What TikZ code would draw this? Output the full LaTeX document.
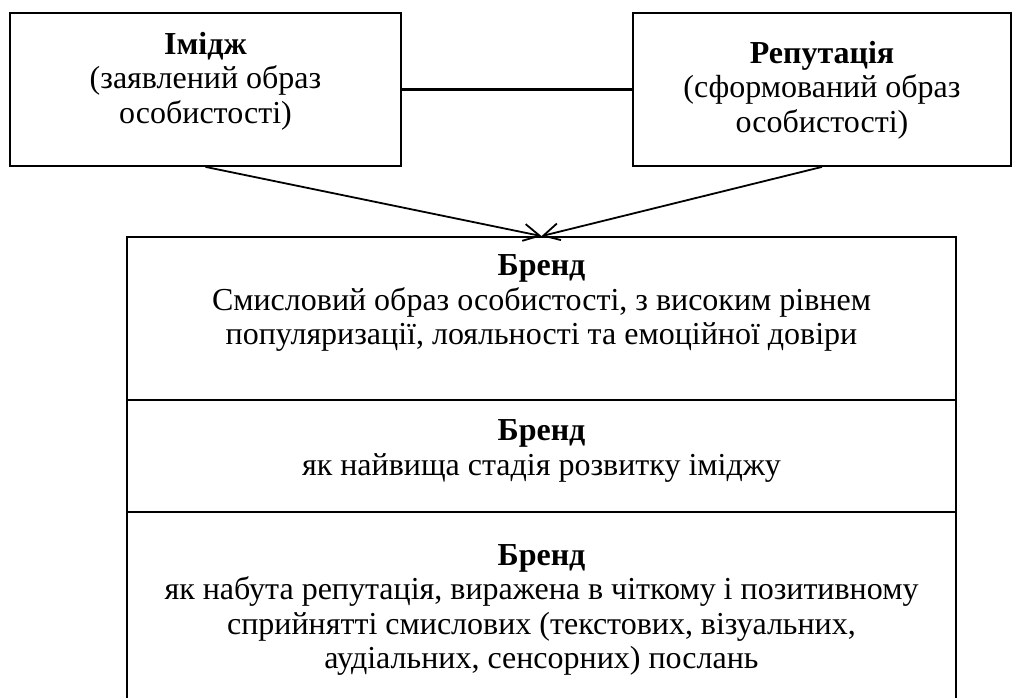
\documentclass[tikz,border=0pt]{standalone}
\usepackage{fontspec}
\setmainfont{Liberation Serif}
\usetikzlibrary{arrows.meta}
\tikzset{
  boxst/.style={draw, line width=1.8pt, inner sep=0pt},
  txt/.style={font=\fontsize{32}{34.4}\selectfont, align=center, inner sep=0pt},
  arr/.style={line width=1.8pt, -{Straight Barb[length=16pt, width=17pt]}},
}
\begin{document}
\begin{tikzpicture}[x=1pt, y=-1pt]
	\useasboundingbox (0, 0) rectangle (1014, 698);
	\node[boxst, minimum width=391pt, minimum height=153pt] (img) at (205.5, 89.5) {};
	\node[boxst, minimum width=378pt, minimum height=153pt] (rep) at (822, 89.5) {};
	\node[boxst, minimum width=829pt, minimum height=163pt] (brand1) at (541.5, 318.5) {};
	\node[boxst, minimum width=829pt, minimum height=112pt] (brand2) at (541.5, 456) {};
	\node[boxst, minimum width=829pt, minimum height=190pt] (brand3) at (541.5, 607) {};
	\node[txt] (imgt) at (205.5, 81) {\textbf{Імідж}\\(заявлений образ\\особистості)};
	\node[txt] (rept) at (822, 90) {\textbf{Репутація}\\(сформований образ\\особистості)};
	\node[txt] (brand1t) at (541.5, 303) {\textbf{Бренд}\\Смисловий образ особистості, з високим рівнем\\популяризації, лояльності та емоційної довіри};
	\node[txt] (brand2t) at (541.5, 451) {\textbf{Бренд}\\як найвища стадія розвитку іміджу};
	\node[txt] (brand3t) at (541.5, 610) {\textbf{Бренд}\\як набута репутація, виражена в чіткому і позитивному\\сприйнятті смислових (текстових, візуальних,\\аудіальних, сенсорних) послань};
	\draw[line width=2.6pt] (img.east) -- (rep.west);
	\draw[arr] (img.south) -- (brand1.north);
	\draw[arr] (rep.south) -- (brand1.north);
\end{tikzpicture}
\end{document}
